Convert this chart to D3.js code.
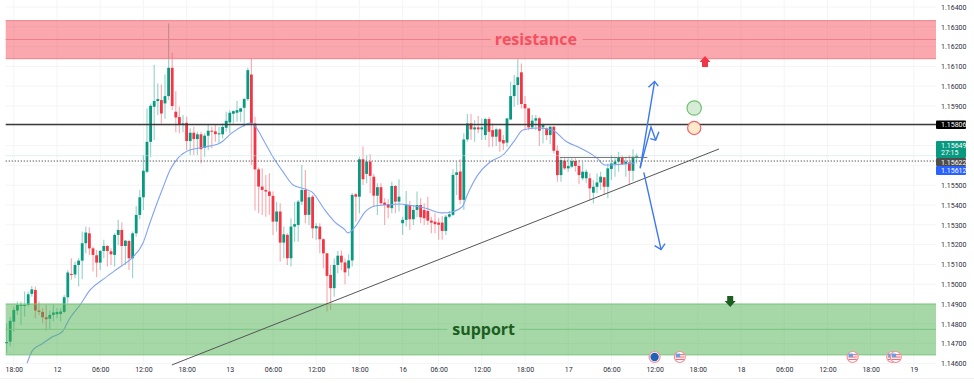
<!DOCTYPE html>
<html>
<head>
<meta charset="utf-8">
<script src="https://cdn.jsdelivr.net/npm/d3@7"></script>
<style>
  html, body { margin: 0; padding: 0; background: #fff; }
  svg { display: block; }
  text { font-family: Roboto, "Noto Sans", sans-serif; }
</style>
</head>
<body>
<svg id="chart" width="974" height="383"></svg>
<script>
// 30 minute candles
const opens = [1.14702,1.14710,1.14811,1.14867,1.14892,1.14892,1.14895,1.14951,1.14971,1.14867,1.14860,1.14833,1.14826,1.14845,1.14848,1.14850,1.14860,1.14934,1.15052,1.15049,1.15097,1.15119,1.15207,1.15257,1.15181,1.15146,1.15109,1.15168,1.15193,1.15166,1.15148,1.15249,1.15274,1.15193,1.15218,1.15131,1.15257,1.15350,1.15439,1.15568,1.15719,1.15896,1.15925,1.15930,1.15913,1.15950,1.16093,1.15871,1.15844,1.15804,1.15815,1.15723,1.15765,1.15733,1.15757,1.15689,1.15750,1.15775,1.15772,1.15758,1.15757,1.15790,1.15817,1.15861,1.15866,1.15871,1.15891,1.15935,1.16059,1.15812,1.15580,1.15493,1.15476,1.15468,1.15446,1.15316,1.15367,1.15210,1.15249,1.15131,1.15291,1.15299,1.15417,1.15476,1.15350,1.15442,1.15282,1.15291,1.15227,1.15156,1.15047,1.14980,1.15097,1.15144,1.15110,1.15080,1.15120,1.15454,1.15442,1.15631,1.15557,1.15619,1.15543,1.15447,1.15490,1.15412,1.15405,1.15384,1.15496,1.15417,1.15308,1.15325,1.15400,1.15328,1.15375,1.15400,1.15375,1.15370,1.15321,1.15316,1.15311,1.15311,1.15269,1.15341,1.15350,1.15552,1.15569,1.15426,1.15731,1.15812,1.15782,1.15792,1.15782,1.15753,1.15834,1.15778,1.15745,1.15782,1.15728,1.15715,1.15832,1.15950,1.16006,1.16070,1.15910,1.15888,1.15792,1.15826,1.15838,1.15792,1.15787,1.15753,1.15795,1.15674,1.15551,1.15624,1.15585,1.15594,1.15622,1.15597,1.15535,1.15535,1.15535,1.15462,1.15492,1.15514,1.15540,1.15492,1.15582,1.15607,1.15619,1.15641,1.15607,1.15615,1.15573,1.15644];
const highs = [1.14802,1.14836,1.14887,1.14912,1.14912,1.14963,1.14963,1.14991,1.14988,1.14912,1.14879,1.14895,1.14867,1.14895,1.14879,1.14879,1.14946,1.15072,1.15131,1.15114,1.15131,1.15266,1.15291,1.15288,1.15190,1.15173,1.15173,1.15224,1.15198,1.15181,1.15257,1.15325,1.15313,1.15224,1.15224,1.15266,1.15395,1.15476,1.15652,1.15888,1.15913,1.16107,1.16014,1.16009,1.16059,1.16317,1.16169,1.15975,1.15896,1.15854,1.15846,1.15787,1.15795,1.15770,1.15770,1.15762,1.15807,1.15795,1.15804,1.15795,1.15812,1.15871,1.15879,1.15879,1.15925,1.15891,1.15942,1.16093,1.16140,1.15846,1.15590,1.15585,1.15551,1.15560,1.15468,1.15417,1.15409,1.15291,1.15257,1.15333,1.15417,1.15425,1.15602,1.15577,1.15468,1.15451,1.15308,1.15308,1.15232,1.15156,1.15097,1.15131,1.15168,1.15170,1.15130,1.15150,1.15460,1.15460,1.15644,1.15695,1.15653,1.15658,1.15557,1.15510,1.15510,1.15434,1.15429,1.15518,1.15501,1.15530,1.15341,1.15471,1.15420,1.15400,1.15468,1.15434,1.15409,1.15442,1.15341,1.15358,1.15333,1.15345,1.15350,1.15370,1.15580,1.15619,1.15631,1.15762,1.15859,1.15859,1.15829,1.15850,1.15837,1.15841,1.15846,1.15812,1.15792,1.15787,1.15753,1.15841,1.16023,1.16056,1.16140,1.16115,1.15950,1.15888,1.15854,1.15854,1.15846,1.15812,1.15795,1.15799,1.15799,1.15700,1.15640,1.15640,1.15636,1.15636,1.15636,1.15627,1.15617,1.15580,1.15560,1.15526,1.15560,1.15568,1.15543,1.15610,1.15652,1.15644,1.15669,1.15652,1.15644,1.15652,1.15681,1.15660];
const lows = [1.14651,1.14685,1.14761,1.14845,1.14795,1.14836,1.14887,1.14937,1.14828,1.14845,1.14803,1.14766,1.14772,1.14811,1.14828,1.14811,1.14853,1.14904,1.15022,1.15030,1.14988,1.15025,1.15156,1.15148,1.15064,1.15035,1.15072,1.15131,1.15089,1.15097,1.15089,1.15198,1.15089,1.15097,1.15072,1.15030,1.15240,1.15328,1.15375,1.15560,1.15641,1.15728,1.15854,1.15812,1.15835,1.15930,1.15880,1.15767,1.15762,1.15767,1.15677,1.15652,1.15652,1.15652,1.15610,1.15644,1.15677,1.15686,1.15719,1.15711,1.15736,1.15770,1.15762,1.15812,1.15820,1.15820,1.15795,1.15925,1.15602,1.15372,1.15358,1.15350,1.15341,1.15350,1.15249,1.15266,1.15114,1.15131,1.15097,1.15089,1.15215,1.15215,1.15400,1.15308,1.15299,1.15232,1.15224,1.15156,1.15080,1.14862,1.14870,1.14937,1.15055,1.15070,1.15000,1.15040,1.15090,1.15316,1.15358,1.15501,1.15510,1.15459,1.15392,1.15350,1.15400,1.15299,1.15333,1.15358,1.15358,1.15367,1.15249,1.15291,1.15274,1.15299,1.15338,1.15308,1.15299,1.15299,1.15257,1.15257,1.15224,1.15224,1.15249,1.15333,1.15345,1.15451,1.15405,1.15375,1.15720,1.15728,1.15720,1.15762,1.15728,1.15728,1.15694,1.15694,1.15698,1.15669,1.15678,1.15694,1.15829,1.15896,1.15905,1.15888,1.15778,1.15778,1.15782,1.15778,1.15698,1.15711,1.15728,1.15708,1.15660,1.15518,1.15518,1.15577,1.15568,1.15585,1.15568,1.15506,1.15525,1.15510,1.15425,1.15408,1.15459,1.15476,1.15450,1.15434,1.15526,1.15543,1.15568,1.15602,1.15543,1.15501,1.15523,1.15610];
const closes = [1.14708,1.14815,1.14870,1.14895,1.14895,1.14895,1.14949,1.14974,1.14867,1.14860,1.14833,1.14823,1.14845,1.14857,1.14860,1.14862,1.14934,1.15059,1.15047,1.15097,1.15119,1.15207,1.15261,1.15181,1.15148,1.15109,1.15168,1.15193,1.15168,1.15151,1.15249,1.15274,1.15193,1.15220,1.15131,1.15257,1.15350,1.15439,1.15573,1.15719,1.15901,1.15925,1.15935,1.15862,1.15950,1.16093,1.15900,1.15842,1.15807,1.15812,1.15723,1.15765,1.15733,1.15757,1.15682,1.15750,1.15775,1.15772,1.15758,1.15762,1.15794,1.15825,1.15866,1.15874,1.15879,1.15888,1.15935,1.16081,1.15812,1.15580,1.15493,1.15476,1.15468,1.15446,1.15316,1.15367,1.15210,1.15252,1.15131,1.15291,1.15303,1.15417,1.15476,1.15350,1.15439,1.15282,1.15294,1.15227,1.15156,1.15042,1.14980,1.15097,1.15144,1.15110,1.15060,1.15120,1.15451,1.15442,1.15631,1.15530,1.15619,1.15547,1.15447,1.15490,1.15409,1.15400,1.15387,1.15496,1.15417,1.15442,1.15325,1.15400,1.15328,1.15375,1.15400,1.15338,1.15333,1.15321,1.15311,1.15303,1.15300,1.15269,1.15341,1.15353,1.15552,1.15565,1.15426,1.15731,1.15812,1.15782,1.15792,1.15782,1.15792,1.15834,1.15770,1.15745,1.15782,1.15720,1.15711,1.15837,1.15950,1.16006,1.16045,1.15910,1.15888,1.15792,1.15826,1.15838,1.15775,1.15804,1.15753,1.15795,1.15674,1.15551,1.15627,1.15585,1.15597,1.15622,1.15597,1.15551,1.15568,1.15568,1.15484,1.15492,1.15514,1.15543,1.15492,1.15585,1.15610,1.15619,1.15641,1.15607,1.15619,1.15573,1.15644,1.15649];

// blue moving average, read at a few places and joined with a curve
const maIdx = [5.7,7.3,9.8,12.6,15.4,17.6,20.4,23.2,27.3,31.5,34.8,37.9,39.8,41.8,43.4,45.4,47.6,50.9,55.1,59.3,62.6,66.2,67.6,68.7,71.8,74,76.8,79.6,82.9,84.8,88.4,91.2,94,94.8,96.8,99.6,102.3,105.1,109.3,111.5,116.2,120.9,123.7,126.5,128.2,130.9,134.3,137.9,141.2,143.4,147.3,151.5,155.7,159.3,164,166.2,171.8,174.6];
const maVal = [1.14602,1.14668,1.14698,1.14733,1.14759,1.14829,1.14895,1.14971,1.15031,1.15087,1.15132,1.15208,1.15309,1.15410,1.15486,1.15577,1.15637,1.15678,1.15693,1.15713,1.15764,1.15804,1.15814,1.15804,1.15713,1.15642,1.15567,1.15501,1.15481,1.15466,1.15375,1.15314,1.15274,1.15259,1.15289,1.15365,1.15395,1.15400,1.15405,1.15400,1.15385,1.15360,1.15365,1.15390,1.15461,1.15552,1.15617,1.15653,1.15728,1.15779,1.15789,1.15779,1.15718,1.15688,1.15637,1.15602,1.15607,1.15612];

const priceTicks = [1.164,1.163,1.162,1.161,1.16,1.159,1.158,1.157,1.156,1.155,1.154,1.153,1.152,1.151,1.15,1.149,1.148,1.147,1.146];
const hiddenTicks = [1.158, 1.157, 1.156]; // these sit under the price tags
const timeIdx = [2,14,26,38,50,62,74,86,98,110,120,132,144,156,168,180,192,204,216,228,240,252];
const timeLabels = ['18:00','12','06:00','12:00','18:00','13','06:00','12:00','18:00','16','06:00','12:00','18:00','17','06:00','12:00','18:00','18','06:00','12:00','18:00','19'];

const resistance = { top: 1.16331, mid: 1.16236, bottom: 1.16139, label: 'resistance', labelIdx: 147, gap: [134.5, 160] };
const support = { top: 1.14900, mid: 1.14772, bottom: 1.14643, label: 'support', labelIdx: 132.5, gap: [122.4, 142.4] };

const keyLevel = 1.15806;
const prevClose = 1.15622;
const lastPrice = 1.15649;
const maLast = 1.15612;
const trendIdx = [45.9, 197.9];
const trendVal = [1.14592, 1.15683];
const rangeIdx = [153.7, 178];
const rangeVal = [1.15640, 1.15640];

// hand drawn blue arrows: shaft points, then the two barbs
const arrowUp = [[176,1.15585],[180,1.16024]];
const arrowUpHead = [[178.3,1.15995],[180,1.16024],[181,1.16000]];
const arrowSmall = [[176,1.15590],[179,1.15794],[180.3,1.15728]];
const arrowSmallHead = [[181.2,1.15770],[180.3,1.15728],[178.8,1.15735]];
const arrowDown = [[177,1.15565],[181.8,1.15175]];
const arrowDownHead = [[180,1.15195],[181.8,1.15175],[182.9,1.15205]];

const eventIdx = [180, 187, 235, 246, 247];
const eventType = ['eu', 'us', 'us', 'us', 'us'];

const width = 974, height = 383;
const plotLeft = 5.7, plotRight = 936;
const green = '#089981', red = '#f23645';

const x = d3.scaleLinear().domain([0, 252]).range([6.6, 913.8]);
const y = d3.scaleLinear().domain([1.164, 1.146]).range([7, 363.4]);

const svg = d3.select('#chart');

// grid
svg.append('g').selectAll('line').data(priceTicks).enter().append('line')
    .attr('x1', plotLeft).attr('x2', plotRight)
    .attr('y1', d => y(d)).attr('y2', d => y(d))
    .attr('stroke', '#f3f4f6');
svg.append('g').selectAll('line').data(timeIdx).enter().append('line')
    .attr('x1', d => x(d)).attr('x2', d => x(d))
    .attr('y1', 0).attr('y2', 366)
    .attr('stroke', '#f3f4f6');
svg.append('line').attr('x1', 0).attr('x2', 974).attr('y1', 378.5).attr('y2', 378.5).attr('stroke', '#f1f1f3');

// candles
const candles = svg.append('g').selectAll('g').data(opens).enter().append('g');
candles.append('line')
    .attr('x1', (d, i) => x(i)).attr('x2', (d, i) => x(i))
    .attr('y1', (d, i) => y(highs[i])).attr('y2', (d, i) => y(lows[i]))
    .attr('stroke', (d, i) => closes[i] >= d ? green : red)
    .attr('stroke-width', 1.2)
    .attr('stroke-opacity', 0.4);
candles.append('rect')
    .attr('x', (d, i) => x(i) - 1.4).attr('width', 2.8)
    .attr('y', (d, i) => y(Math.max(d, closes[i])))
    .attr('height', (d, i) => Math.max(1, Math.abs(y(d) - y(closes[i]))))
    .attr('fill', (d, i) => closes[i] >= d ? green : red);

// moving average
const maLine = d3.line().x(d => x(d[0])).y(d => y(d[1])).curve(d3.curveMonotoneX);
svg.append('path').attr('d', maLine(maIdx.map((d, i) => [d, maVal[i]])))
    .attr('fill', 'none').attr('stroke', '#82a2f6').attr('stroke-width', 1.1);

// supply and demand zones
function drawZone(z, fill, edge, textColor, fontSize) {
    const g = svg.append('g');
    g.append('rect')
        .attr('x', plotLeft).attr('width', plotRight - plotLeft)
        .attr('y', y(z.top)).attr('height', y(z.bottom) - y(z.top))
        .attr('fill', fill);
    [z.top, z.bottom].forEach(v => g.append('line')
        .attr('x1', plotLeft).attr('x2', plotRight).attr('y1', y(v)).attr('y2', y(v))
        .attr('stroke', edge).attr('stroke-width', 1));
    g.append('line').attr('x1', plotLeft).attr('x2', x(z.gap[0]))
        .attr('y1', y(z.mid)).attr('y2', y(z.mid)).attr('stroke', edge);
    g.append('line').attr('x1', x(z.gap[1])).attr('x2', plotRight)
        .attr('y1', y(z.mid)).attr('y2', y(z.mid)).attr('stroke', edge);
    g.append('text').text(z.label)
        .attr('x', x(z.labelIdx)).attr('y', y(z.mid))
        .attr('dy', '0.34em').attr('text-anchor', 'middle')
        .attr('fill', textColor)
        .style('font-family', '"Open Sans", sans-serif')
        .style('font-weight', 700).style('font-size', fontSize + 'px');
}
drawZone(resistance, 'rgba(245,60,75,0.45)', '#ee7f88', '#f4505e', 16);
drawZone(support, 'rgba(76,175,80,0.5)', '#7cc47f', '#1b5e20', 16);

// price lines
svg.append('line').attr('x1', plotLeft).attr('x2', plotRight)
    .attr('y1', y(keyLevel)).attr('y2', y(keyLevel))
    .attr('stroke', '#3a3a3a').attr('stroke-width', 1.5);
svg.append('line').attr('x1', plotLeft).attr('x2', plotRight)
    .attr('y1', y(lastPrice)).attr('y2', y(lastPrice))
    .attr('stroke', '#bfe6df').attr('stroke-dasharray', '1 1');
svg.append('line').attr('x1', plotLeft).attr('x2', plotRight)
    .attr('y1', y(prevClose)).attr('y2', y(prevClose))
    .attr('stroke', '#444').attr('stroke-dasharray', '1.2 1.8');

// trend line and the small range line
const straight = d3.line().x(d => x(d[0])).y(d => y(d[1]));
svg.append('path').attr('d', straight(trendIdx.map((d, i) => [d, trendVal[i]])))
    .attr('stroke', '#555').attr('fill', 'none');
svg.append('path').attr('d', straight(rangeIdx.map((d, i) => [d, rangeVal[i]])))
    .attr('stroke', '#777').attr('fill', 'none');

// blue arrows
[arrowUp, arrowUpHead, arrowSmall, arrowSmallHead, arrowDown, arrowDownHead].forEach(pts => {
    svg.append('path').attr('d', straight(pts))
        .attr('fill', 'none').attr('stroke', '#3b78f0').attr('stroke-width', 1.4);
});

// circles
svg.append('circle').attr('cx', x(191)).attr('cy', y(1.1589)).attr('r', 7.2)
    .attr('fill', '#d6ecd6').attr('stroke', '#6fc073').attr('stroke-width', 1.2);
svg.append('circle').attr('cx', x(191)).attr('cy', y(1.15789)).attr('r', 6.6)
    .attr('fill', '#fdeacb').attr('stroke', '#f4626c').attr('stroke-width', 1.2);

// block arrows for the zones
function blockArrow(cx, tipY, dir, color) {
    const p = [[0,0],[5.5,6],[3,6],[3,11],[-3,11],[-3,6],[-5.5,6]];
    svg.append('path')
        .attr('d', d3.line()(p.map(q => [cx + q[0], tipY + dir * q[1]])) + 'Z')
        .attr('fill', color);
}
blockArrow(x(194), y(1.16152), 1, red);
blockArrow(x(201), y(1.14885), -1, '#1b5e20');

// economic calendar markers
function drawEvent(cx, type) {
    const cy = 357;
    const g = svg.append('g');
    g.append('circle').attr('cx', cx).attr('cy', cy).attr('r', 5.5)
        .attr('fill', '#fff').attr('stroke', '#f58f98').attr('stroke-width', 1.2);
    if (type === 'eu') {
        g.append('circle').attr('cx', cx).attr('cy', cy).attr('r', 4.2).attr('fill', '#1f62b8');
    } else {
        [-2.4, 0, 2.4].forEach(o => g.append('rect')
            .attr('x', cx - 4.2).attr('y', cy + o - 0.5).attr('width', 8.4).attr('height', 1.1)
            .attr('fill', '#f26d78'));
        g.append('rect').attr('x', cx - 4).attr('y', cy - 3.4).attr('width', 4.4).attr('height', 3.4)
            .attr('fill', '#5aa3ee');
    }
}
eventIdx.forEach((d, i) => drawEvent(x(d), eventType[i]));

// price axis
const yAxis = svg.append('g').attr('transform', `translate(${plotRight + 5},0)`)
    .call(d3.axisRight(y).tickValues(priceTicks.filter(d => !hiddenTicks.includes(d)))
        .tickSize(0).tickPadding(0).tickFormat(d3.format('.5f')));
yAxis.select('.domain').remove();
yAxis.selectAll('text').style('font-size', '7px').style('fill', '#2a2e39');

// time axis
const xAxis = svg.append('g').attr('transform', 'translate(0,367.5)')
    .call(d3.axisBottom(x).tickValues(timeIdx).tickSize(0).tickPadding(0)
        .tickFormat(d => timeLabels[timeIdx.indexOf(d)]));
xAxis.select('.domain').remove();
xAxis.selectAll('text').style('font-size', '7px').style('fill', '#2a2e39');

// price tags on the axis
function priceTag(top, h, color, lines) {
    svg.append('rect').attr('x', plotRight).attr('y', top).attr('width', 30).attr('height', h)
        .attr('rx', 1).attr('fill', color);
    lines.forEach((t, i) => svg.append('text').text(t)
        .attr('x', plotRight + 5).attr('y', top + 6.6 + i * 7.6)
        .attr('fill', '#fff').style('font-size', '7px'));
}
priceTag(y(keyLevel) - 4, 8.5, '#000', [d3.format('.5f')(keyLevel)]);
priceTag(141, 17, green, [d3.format('.5f')(lastPrice), '27:15']);
priceTag(158, 8, '#4d4d4d', [d3.format('.5f')(prevClose)]);
priceTag(166, 9, '#2962ff', [d3.format('.5f')(maLast)]);
</script>
</body>
</html>
